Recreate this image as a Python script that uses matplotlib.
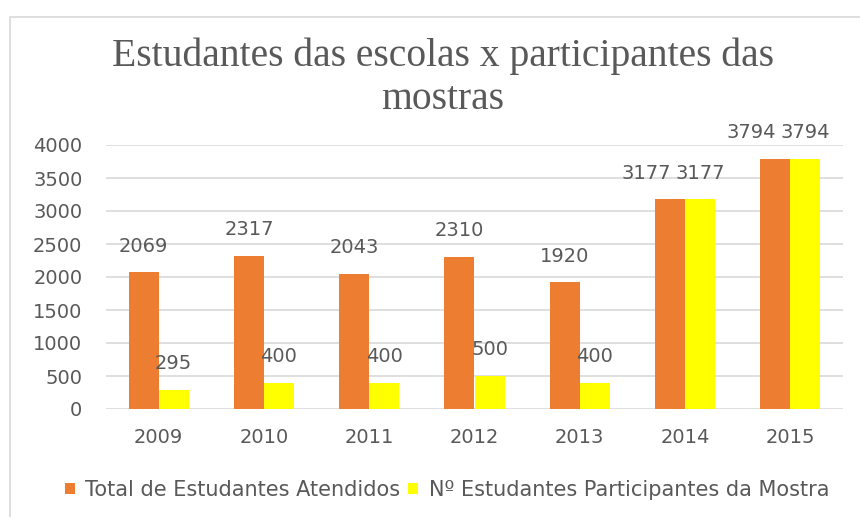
import matplotlib
matplotlib.use("Agg")
import matplotlib.pyplot as plt
import numpy as np
from matplotlib.patches import Rectangle

years = ["2009", "2010", "2011", "2012", "2013", "2014", "2015"]
total_atendidos = [2069, 2317, 2043, 2310, 1920, 3177, 3794]
participantes = [295, 400, 400, 500, 400, 3177, 3794]
series_names = ["Total de Estudantes Atendidos", "Nº Estudantes Participantes da Mostra"]
title = "Estudantes das escolas x participantes das\nmostras"

ORANGE = "#ED7D31"
YELLOW = "#FFFF00"
TXT = "#595959"
GRID = "#D9D9D9"
FONT = "DejaVu Sans"
FS = 14

fig = plt.figure(figsize=(8.6, 5.17), dpi=100)
fig.patches.append(Rectangle((10 / 860, -0.1), 1.2, 1 - 17 / 517 + 0.1,
                             transform=fig.transFigure, fill=False,
                             edgecolor=GRID, linewidth=1.2))

ax = fig.add_axes([106 / 860, 1 - 409 / 517, (843 - 106) / 860, (409 - 145) / 517])
x = np.arange(len(years))
w = 0.285
ax.bar(x - w / 2, total_atendidos, w, color=ORANGE, label=series_names[0], zorder=3)
ax.bar(x + w / 2, participantes, w, color=YELLOW, label=series_names[1], zorder=3)

ax.set_ylim(0, 4000)
ax.set_xlim(-0.5, len(years) - 0.5)
ax.set_yticks(np.arange(0, 4001, 500))
ax.set_xticks(x)
ax.set_xticklabels(years)
ax.grid(axis="y", color=GRID, linewidth=1.2, zorder=0)
for s in ax.spines.values():
    s.set_visible(False)
ax.tick_params(length=0, labelsize=FS, labelcolor=TXT)
ax.tick_params(axis="y", pad=17)
ax.tick_params(axis="x", pad=14)
for lab in ax.get_xticklabels() + ax.get_yticklabels():
    lab.set_fontfamily(FONT)

for i in range(len(years)):
    v1, v2 = total_atendidos[i], participantes[i]
    shift = -17 if abs(v1 - v2) < 300 else 0
    ax.annotate(str(v1), (x[i] - w / 2, v1), xytext=(shift, 12), textcoords="offset points",
                ha="center", va="bottom", fontsize=FS, color=TXT, family=FONT)
    ax.annotate(str(v2), (x[i] + w / 2, v2), xytext=(0, 12), textcoords="offset points",
                ha="center", va="bottom", fontsize=FS, color=TXT, family=FONT)

fig.text(443 / 860, 1 - 78 / 517, title, ha="center", va="center", fontsize=28.5,
         family="Liberation Serif", color=TXT, linespacing=1.2)

fig.legend(loc="center", bbox_to_anchor=(447 / 860, 1 - 490 / 517), ncol=2, frameon=False,
           prop={"family": FONT, "size": 15}, handlelength=0.48, handleheight=0.48,
           handletextpad=0.5, columnspacing=0.38, labelcolor=TXT,
           borderpad=0, borderaxespad=0)

fig.savefig("out.png", dpi=100)
